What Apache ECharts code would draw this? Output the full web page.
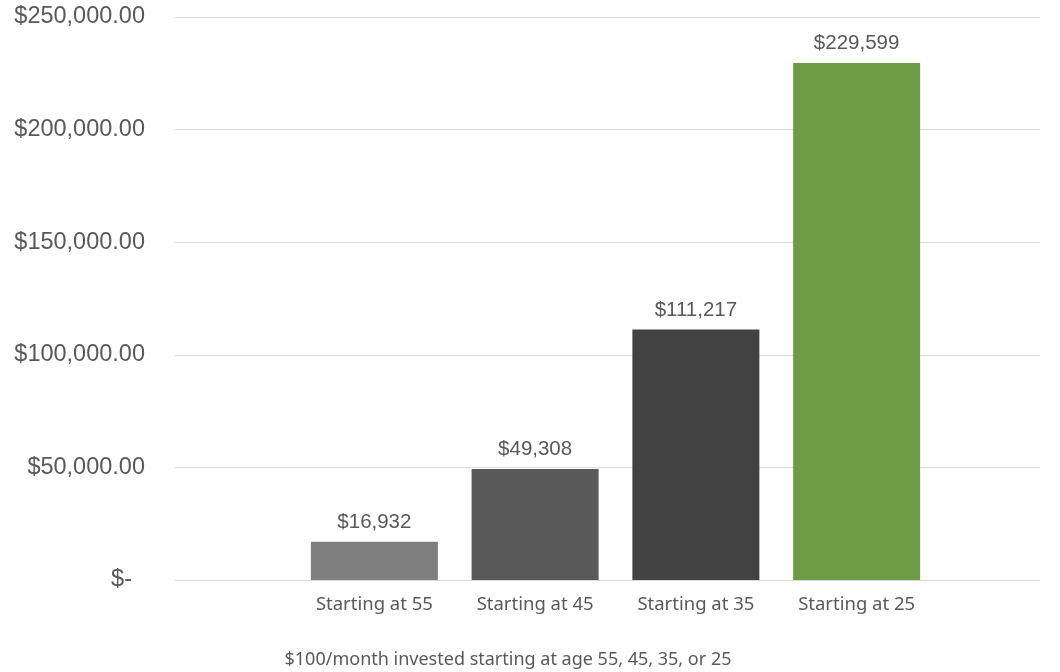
<!DOCTYPE html>
<html>
<head>
<meta charset="utf-8">
<script src="https://cdn.jsdelivr.net/npm/echarts@6/dist/echarts.min.js"></script>
<style>
  html, body { margin: 0; padding: 0; background: #ffffff; }
  #chart { width: 1060px; height: 672px; }
</style>
</head>
<body>
<div id="chart"></div>
<script>
// Value of $100/month invested, by starting age
const categories = ['Starting at 55', 'Starting at 45', 'Starting at 35', 'Starting at 25'];
const totals = [16932, 49308, 111217, 229599];
const barColors = ['#7f7f7f', '#595959', '#424242', '#6c9d46'];
const yTicks = { min: 0, max: 250000, interval: 50000 };
const axisTitle = '$100/month invested starting at age 55, 45, 35, or 25';

const money2 = v => '$' + v.toLocaleString('en-US', { minimumFractionDigits: 2, maximumFractionDigits: 2 });
const money0 = v => '$' + Math.round(v).toLocaleString('en-US');

const chart = echarts.init(document.getElementById('chart'), null, { renderer: 'canvas' });

chart.setOption({
  backgroundColor: '#ffffff',
  animation: false,
  grid: [
    // full-width plot area carrying the value axis and gridlines
    { left: 175, right: 20, top: 17, bottom: 92 },
    // inner band where the four columns sit
    { left: 294, right: 123, top: 17, bottom: 92 }
  ],
  xAxis: [
    { gridIndex: 0, type: 'category', data: [''], show: false },
    {
      gridIndex: 1, type: 'category', data: categories,
      axisLine: { show: false }, axisTick: { show: false },
      axisLabel: {
        color: '#595959', fontFamily: 'Noto Sans', fontSize: 18.5, margin: 15
      }
    }
  ],
  yAxis: [
    {
      gridIndex: 0, type: 'value',
      min: yTicks.min, max: yTicks.max, interval: yTicks.interval,
      axisLine: { show: false }, axisTick: { show: false },
      splitLine: { lineStyle: { color: '#d9d9d9', width: 1 } },
      axisLabel: {
        margin: 30,
        formatter: v => v === 0 ? '{z|$-}' : money2(v),
        color: '#595959', fontFamily: 'Liberation Sans', fontSize: 23.5,
        rich: { z: { color: '#595959', fontFamily: 'Liberation Sans', fontSize: 23.5, padding: [0, 13, 0, 0] } }
      }
    },
    {
      gridIndex: 1, type: 'value',
      min: yTicks.min, max: yTicks.max, interval: yTicks.interval,
      show: false, splitLine: { show: false }
    }
  ],
  series: [{
    type: 'bar',
    xAxisIndex: 1,
    yAxisIndex: 1,
    barWidth: 127,
    data: totals.map((v, i) => ({ value: v, itemStyle: { color: barColors[i] } })),
    label: {
      show: true, position: 'top', distance: 9,
      formatter: p => money0(p.value),
      color: '#595959', fontFamily: 'Liberation Sans', fontSize: 20.5
    }
  }],
  graphic: [{
    type: 'text', x: 508, y: 660,
    style: {
      text: axisTitle, textAlign: 'center', textVerticalAlign: 'middle',
      fill: '#595959', font: '18px "Noto Sans"'
    }
  }]
});
</script>
</body>
</html>
